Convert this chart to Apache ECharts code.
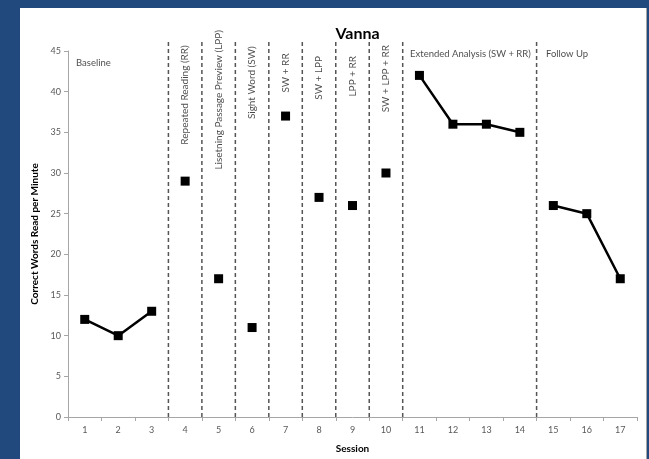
<!DOCTYPE html>
<html>
<head>
<meta charset="utf-8">
<script src="https://cdn.jsdelivr.net/npm/echarts@6/dist/echarts.min.js"></script>
<style>
  html, body { margin: 0; padding: 0; width: 649px; height: 459px; background: #22497D; overflow: hidden; }
  #chart { position: absolute; left: 20px; top: 8px; width: 626px; height: 451px; background: #ffffff; border-right: 1px solid #a8a8a8; }
</style>
</head>
<body>
<div id="chart"></div>
<script>
// ---- data ----
const sessions = ['1','2','3','4','5','6','7','8','9','10','11','12','13','14','15','16','17'];
const baselineSessions = ['1','2','3'];
const baselineValues = [12, 10, 13];
const singleSessions = ['4','5','6','7','8','9','10'];
const singleValues = [29, 17, 11, 37, 27, 26, 30];
const extendedSessions = ['11','12','13','14'];
const extendedValues = [42, 36, 36, 35];
const followSessions = ['15','16','17'];
const followValues = [26, 25, 17];
const phaseBoundaries = [3.5, 4.5, 5.5, 6.5, 7.5, 8.5, 9.5, 10.5, 14.5];
const yTicks = [0, 5, 10, 15, 20, 25, 30, 35, 40, 45];

// ---- annotation texts (phase labels) ----
const horizontalPhaseLabels = ['Baseline', 'Extended Analysis (SW + RR)', 'Follow Up'];
const verticalPhaseLabels = ['Repeated Reading (RR)', 'Lisetning Passage Preview (LPP)', 'Sight Word (SW)', 'SW + RR', 'SW + LPP', 'LPP + RR', 'SW + LPP + RR'];

// annotation placement (in axis units)
const horizontalLabelPos = [[0.74, 43.5], [10.72, 44.6], [14.78, 44.6]];
const verticalLabelPos = [[4, 39.6], [5, 39.0], [6, 41.1], [7, 42.3], [8, 41.7], [9, 41.9], [10, 41.6]];
const dashTop = 46.3;

const FONT = 'Lato, "Open Sans", sans-serif';
const chart = echarts.init(document.getElementById('chart'), null, { renderer: 'canvas' });

function pairs(xs, ys) { return xs.map((x, i) => [x, ys[i]]); }

const markerStyle = { color: '#000', opacity: 1 };
function lineSeries(name, xs, ys) {
  return {
    name, type: 'line', xAxisIndex: 0, yAxisIndex: 0,
    data: pairs(xs, ys),
    symbol: 'rect', symbolSize: 9,
    itemStyle: markerStyle,
    lineStyle: { color: '#000', width: 2.5 },
    z: 5
  };
}

const labelData = [];
horizontalPhaseLabels.forEach((t, i) => {
  labelData.push({
    value: horizontalLabelPos[i],
    label: { show: true, formatter: t, position: 'inside', align: 'left', verticalAlign: 'middle',
             fontSize: 9.5, color: '#1a1a1a', fontFamily: FONT }
  });
});
verticalPhaseLabels.forEach((t, i) => {
  labelData.push({
    value: verticalLabelPos[i],
    label: { show: true, formatter: t, position: 'inside', rotate: 90, align: 'center', verticalAlign: 'middle',
             fontSize: 10, color: '#1a1a1a', fontFamily: FONT }
  });
});

// dashed phase-change lines: one line series, segments separated by gaps
const dashData = [];
phaseBoundaries.forEach((b, i) => {
  if (i > 0) dashData.push('-');
  dashData.push([b, 0]);
  dashData.push([b, dashTop]);
});

const option = {
  animation: false,
  title: {
    text: 'Vanna', left: 332.5, top: 13, textAlign: 'center',
    textStyle: { fontSize: 16, fontWeight: 'bold', color: '#000', fontFamily: FONT }
  },
  grid: { left: 48, right: 9, top: 43, bottom: 42 },
  xAxis: [
    {
      type: 'category', data: sessions, boundaryGap: true,
      name: 'Session', nameLocation: 'middle', nameGap: 27,
      nameTextStyle: { fontSize: 10, fontWeight: 'bold', color: '#000', fontFamily: FONT },
      axisLine: { lineStyle: { color: '#a6a6a6', width: 1 } },
      axisTick: { show: true, length: 4, lineStyle: { color: '#a6a6a6' } },
      axisLabel: { fontSize: 9, color: '#595959', margin: 9, fontFamily: FONT },
      splitLine: { show: false }
    },
    { type: 'value', min: 0.5, max: 17.5, show: false }
  ],
  yAxis: {
    type: 'value', min: 0, max: 45, interval: 5,
    name: 'Correct Words Read per Minute', nameLocation: 'middle', nameGap: 28, nameRotate: 90,
    nameTextStyle: { fontSize: 10, fontWeight: 'bold', color: '#000', fontFamily: FONT },
    axisLine: { show: true, lineStyle: { color: '#a6a6a6', width: 1 } },
    axisTick: { show: true, length: 4, lineStyle: { color: '#a6a6a6' } },
    axisLabel: { fontSize: 9, color: '#595959', margin: 7, fontFamily: FONT,
                 formatter: v => yTicks.includes(v) ? String(v) : '' },
    splitLine: { show: false }
  },
  series: [
    {
      name: 'Phase changes', type: 'line', xAxisIndex: 1, yAxisIndex: 0, clip: false,
      data: dashData, connectNulls: false, showSymbol: false, symbol: 'none', silent: true,
      lineStyle: { type: [4, 3], color: '#555', width: 1.5 }, z: 2
    },
    lineSeries('Baseline', baselineSessions, baselineValues),
    {
      name: 'Single sessions', type: 'scatter', xAxisIndex: 0, yAxisIndex: 0,
      data: pairs(singleSessions, singleValues),
      symbol: 'rect', symbolSize: 9, itemStyle: markerStyle, z: 5
    },
    lineSeries('Extended Analysis', extendedSessions, extendedValues),
    lineSeries('Follow Up', followSessions, followValues),
    {
      name: 'Phases', type: 'scatter', xAxisIndex: 1, yAxisIndex: 0, clip: false,
      symbolSize: 0, silent: true,
      data: labelData
    }
  ]
};
chart.setOption(option);
</script>
</body>
</html>
